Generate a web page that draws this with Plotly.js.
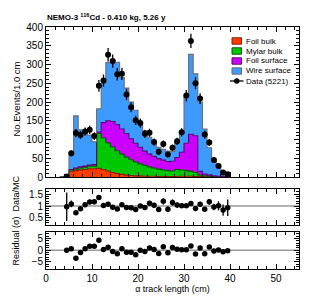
<!DOCTYPE html>
<html>
<head>
<meta charset="utf-8">
<script src="https://cdn.plot.ly/plotly-3.0.1.min.js"></script>
<style>html,body{margin:0;padding:0;background:#fff;}#chart{width:315px;height:301px;}</style>
</head>
<body>
<div id="chart"></div>
<script>
// bin lower edges (cm), 1 cm bins
const binLow = [4,5,6,7,8,9,10,11,12,13,14,15,16,17,18,19,20,21,22,23,24,25,26,27,28,29,30,31,32,33,34,35,36,37,38,39];
const dataCounts = [1,63,117,112,121,126,109, 243,257,326,309,274,275,220,186,151,144, 115,118,93,67,88,60,78,95,119,217, 363,250,209,113,92,45,29,12,7];
const foilBulk = [0.5,14,17,19,20,22,22, 23,20,16,12,9,7,5,4,3,3, 2,2,2,1.5,1.5,1,1,1.5,2,2, 2,1.5,1,0.5,0.3,0.2,0.1,0.1,0];
const mylarBulk = [0.1,4,4,5,6,7,7, 93,84,75,68,61,54,48,42,37,32, 29,25,22,19.5,17.5,16,15,18.5,17,15, 13,10.5,4,2.5,1.7,0.8,0.4,0.2,0.1];
const foilSurface = [0.1,2,3,3,3,3,4, 4,41,59,68,70,67,63,56,50,44, 38,34,31,28,26,24,26,32,47,73, 99,98,10,5,3,2,1.5,0.7,0.4];
const wireSurface = [0.3,38,139,99,89,80,61, 62,105,155,164,166,137,121,98,88,66, 54,45,36,30,29,28,26,40,54,125, 213,165,185,120,73,44,26,13,6.5];
const ratio = [0.97,1.09,0.72,0.89,1.05,1.17,1.18, 1.36,1.02,1.08,0.95,0.88,1.05,0.94,0.93,0.85,1.0, 0.94,1.12,1.03,0.85,1.2,0.87,1.15,1.04,1.01,1.01, 1.11,0.9,1.08,0.87,1.18,0.96,1.01,0.83,0.93];
const ratioErr = [0.6,0.14,0.07,0.08,0.09,0.1,0.11, 0.09,0.06,0.06,0.05,0.05,0.06,0.06,0.07,0.07,0.08, 0.09,0.1,0.11,0.1,0.13,0.11,0.13,0.11,0.09,0.07, 0.06,0.06,0.07,0.08,0.12,0.14,0.19,0.24,0.35];
const residual = [0,0.6,-3.4,-1.0,0.6,1.7,1.7, 4.3,0.3,1.3,-0.5,-1.5,0.7,-0.9,-0.9,-1.9,0, -0.5,1.0,0.3,-1.4,1.5,-1.1,1.2,0.4,0.2,0.2, 1.8,-1.6,1.0,-1.5,1.4,-0.3,0.1,-0.6,-0.2];
const legendLabels = ['Foil bulk','Mylar bulk','Foil surface','Wire surface','Data (5221)'];

const fillColors = ['#ff3c00','#00c800','#cc00ff','#3d9bff'];
const lineColors = ['#8a1c00','#005a00','#5a0070','#6e6e6e'];
const comps = [foilBulk, mylarBulk, foilSurface, wireSurface];

const centers = binLow.map(b => b + 0.5);
const binW = 1;

// stacked step histograms
const traces = [];
let cum = binLow.map(() => 0);
comps.forEach((c, i) => {
  cum = cum.map((v, j) => v + c[j]);
  const xs = [binLow[0] - binW].concat(binLow, [binLow[binLow.length-1] + binW]);
  const ys = [0].concat(cum, [0]);
  traces.push({
    type: 'scatter', mode: 'lines', x: xs, y: ys,
    line: {shape: 'hv', color: lineColors[i], width: 1.1},
    fill: i === 0 ? 'tozeroy' : 'tonexty', fillcolor: fillColors[i],
    xaxis: 'x', yaxis: 'y', showlegend: false, hoverinfo: 'skip'
  });
});
traces.push({
  type: 'scatter', mode: 'markers', x: centers, y: dataCounts,
  marker: {color: '#000', size: 6},
  error_y: {type: 'sqrt', color: '#000', thickness: 1.3, width: 0},
  xaxis: 'x', yaxis: 'y', showlegend: false
});
traces.push({
  type: 'scatter', mode: 'markers', x: centers, y: ratio,
  marker: {color: '#000', size: 5.5},
  error_y: {type: 'data', array: ratioErr, color: '#000', thickness: 1.3, width: 0},
  xaxis: 'x2', yaxis: 'y2', showlegend: false
});
traces.push({
  type: 'scatter', mode: 'markers', x: centers, y: residual,
  marker: {color: '#000', size: 5.5},
  xaxis: 'x3', yaxis: 'y3', showlegend: false
});

const FONT = 'Liberation Sans, Arial, Helvetica, sans-serif';
const L = 46, R = 299, T = 27, B = 269;
const px = p => (p - L) / (R - L);
const py = p => (B - p) / (B - T);

function xax(extra) {
  return Object.assign({
    range: [0, 55], showline: true, linecolor: '#000', linewidth: 1, mirror: 'ticks',
    ticks: 'inside', ticklen: 5, tickcolor: '#000', tick0: 0, dtick: 10,
    minor: {ticks: 'inside', dtick: 2, ticklen: 3, tickcolor: '#000'},
    showgrid: false, zeroline: false, showticklabels: false,
    tickfont: {family: FONT, size: 10, color: '#000'}
  }, extra);
}
function yax(extra) {
  return Object.assign({
    showline: true, linecolor: '#000', linewidth: 1, mirror: 'ticks',
    ticks: 'inside', ticklen: 5, tickcolor: '#000',
    showgrid: false, zeroline: false,
    tickfont: {family: FONT, size: 10, color: '#000'}
  }, extra);
}

const shapes = [
  {type: 'line', xref: 'x2 domain', x0: 0, x1: 1, yref: 'y2', y0: 1, y1: 1, line: {color: '#999', width: 1.5}, layer: 'below'},
  {type: 'line', xref: 'x3 domain', x0: 0, x1: 1, yref: 'y3', y0: 0, y1: 0, line: {color: '#999', width: 1.5}, layer: 'below'}
];
const annotations = [
  {text: '<b>NEMO-3 <sup>116</sup>Cd - 0.410 kg, 5.26 y</b>', xref: 'paper', yref: 'paper', x: px(45), y: py(17), xanchor: 'left', yanchor: 'middle', showarrow: false, font: {family: FONT, size: 8, color: '#000'}},
  {text: 'No.Events/1.0 cm', xref: 'paper', yref: 'paper', x: px(15.5), y: py(99), textangle: -90, xanchor: 'center', yanchor: 'middle', showarrow: false, font: {family: FONT, size: 9.5, color: '#000'}},
  {text: 'Residual (σ)  Data/MC', xref: 'paper', yref: 'paper', x: px(15.5), y: py(221), textangle: -90, xanchor: 'center', yanchor: 'middle', showarrow: false, font: {family: FONT, size: 9, color: '#000'}}
];
// legend drawn by hand (compact ROOT-style)
legendLabels.forEach((lab, i) => {
  const yc = 41 + 10 * i;
  if (i < 4) {
    shapes.push({type: 'rect', xref: 'paper', yref: 'paper', x0: px(232), x1: px(241.5), y0: py(yc + 3.2), y1: py(yc - 3.2), fillcolor: fillColors[i], line: {color: lineColors[i], width: 1}});
  } else {
    shapes.push({type: 'line', xref: 'paper', yref: 'paper', x0: px(230), x1: px(243.5), y0: py(yc), y1: py(yc), line: {color: '#000', width: 1.3}});
    shapes.push({type: 'circle', xref: 'paper', yref: 'paper', x0: px(234), x1: px(239.5), y0: py(yc + 2.75), y1: py(yc - 2.75), fillcolor: '#000', line: {color: '#000', width: 0}});
  }
  annotations.push({text: lab, xref: 'paper', yref: 'paper', x: px(244), y: py(yc), xanchor: 'left', yanchor: 'middle', showarrow: false, font: {family: FONT, size: 8, color: '#000'}});
});

const layout = {
  width: 315, height: 301,
  margin: {l: L, r: 315 - R, t: T, b: 301 - B, pad: 0},
  paper_bgcolor: '#fff', plot_bgcolor: '#fff',
  showlegend: false,
  font: {family: FONT, size: 10, color: '#000'},
  xaxis: xax({anchor: 'y', domain: [0, 1]}),
  yaxis: yax({anchor: 'x', domain: [py(177), 1], range: [0, 400], tick0: 0, dtick: 50,
              minor: {ticks: 'inside', dtick: 10, ticklen: 3, tickcolor: '#000'}}),
  xaxis2: xax({anchor: 'y2', matches: 'x', domain: [0, 1]}),
  yaxis2: yax({anchor: 'x2', domain: [py(225), py(189)], range: [0.2, 1.72], tickvals: [0.5, 1, 1.5], ticktext: ['0.5', '1', '1.5'],
               minor: {ticks: 'inside', tickvals: [0.3,0.4,0.6,0.7,0.8,0.9,1.1,1.2,1.3,1.4,1.6,1.7], ticklen: 3, tickcolor: '#000'}}),
  xaxis3: xax({anchor: 'y3', matches: 'x', domain: [0, 1], showticklabels: true,
               title: {text: 'α track length (cm)', font: {family: FONT, size: 9, color: '#000'}, standoff: 1}}),
  yaxis3: yax({anchor: 'x3', domain: [0, py(232)], range: [-8, 7.8], tickvals: [-5, 0, 5],
               minor: {ticks: 'inside', dtick: 1, ticklen: 3, tickcolor: '#000'}}),
  shapes: shapes,
  annotations: annotations
};

Plotly.newPlot('chart', traces, layout, {displayModeBar: false, staticPlot: true});
</script>
</body>
</html>
